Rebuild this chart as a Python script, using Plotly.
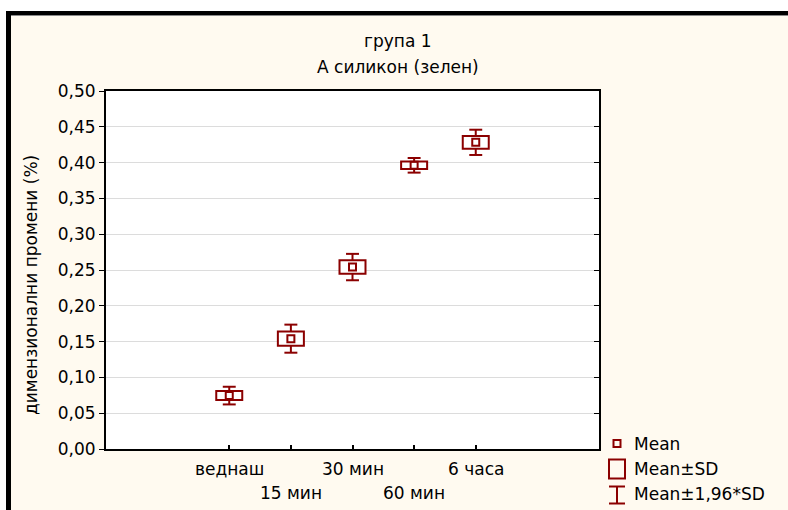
import plotly.graph_objects as go

# Data: dimensional change per time point (mean and standard deviation)
categories = ["веднаш", "15 мин", "30 мин", "60 мин", "6 часа"]
means = [0.0746, 0.1541, 0.2541, 0.3962, 0.4283]
sds = [0.0063, 0.0100, 0.0094, 0.0052, 0.0090]
y_ticks = [0.00, 0.05, 0.10, 0.15, 0.20, 0.25, 0.30, 0.35, 0.40, 0.45, 0.50]
title_lines = ["група 1", "А силикон (зелен)"]
y_title = "димензионални промени (%)"
legend_labels = ["Mean", "Mean±SD", "Mean±1,96*SD"]

RED = "#8b0000"
CREAM = "#fffaf0"
FONT = "DejaVu Sans"
FS = 17
W, H = 788, 510
ML, MR, MT, MB = 106, 189, 91, 61
PW, PH = W - ML - MR, H - MT - MB


def px(x):
    return (x - ML) / PW


def py(y):
    return (H - MB - y) / PH


xs = list(range(len(categories)))
box_half = 0.211
cap_half = 0.105

fig = go.Figure()

shapes = []
for x, m, s in zip(xs, means, sds):
    w = 1.96 * s
    line = dict(color=RED, width=2)
    # whiskers (mean ± 1.96*SD)
    shapes.append(dict(type="line", xref="x", yref="y", x0=x, x1=x, y0=m + s, y1=m + w,
                       line=line, layer="between"))
    shapes.append(dict(type="line", xref="x", yref="y", x0=x, x1=x, y0=m - s, y1=m - w,
                       line=line, layer="between"))
    shapes.append(dict(type="line", xref="x", yref="y", x0=x - cap_half, x1=x + cap_half,
                       y0=m + w, y1=m + w, line=line, layer="between"))
    shapes.append(dict(type="line", xref="x", yref="y", x0=x - cap_half, x1=x + cap_half,
                       y0=m - w, y1=m - w, line=line, layer="between"))
    # box (mean ± SD)
    shapes.append(dict(type="rect", xref="x", yref="y", x0=x - box_half, x1=x + box_half,
                       y0=m - s, y1=m + s, fillcolor="white", line=line, layer="between"))

# mean markers
fig.add_trace(go.Scatter(
    x=xs, y=means, mode="markers", showlegend=False, hoverinfo="skip",
    marker=dict(symbol="square-open", size=7, color=RED, line=dict(width=2, color=RED)),
))

# window frame: white outer strip, thick black edge, cream panel
shapes += [
    dict(type="rect", xref="paper", yref="paper", x0=px(0), x1=px(6), y0=py(H), y1=py(0),
         fillcolor="white", line_width=0, layer="below"),
    dict(type="rect", xref="paper", yref="paper", x0=px(0), x1=px(W), y0=py(11), y1=py(0),
         fillcolor="white", line_width=0, layer="below"),
    dict(type="rect", xref="paper", yref="paper", x0=px(6), x1=px(11), y0=py(H), y1=py(11),
         fillcolor="black", line_width=0, layer="below"),
    dict(type="rect", xref="paper", yref="paper", x0=px(6), x1=px(W), y0=py(15), y1=py(11),
         fillcolor="black", line_width=0, layer="below"),
    dict(type="line", xref="paper", yref="paper", x0=px(11), x1=px(W), y0=py(15.5), y1=py(15.5),
         line=dict(color="#8a8a8a", width=1), layer="below"),
]

# legend keys
lx = 617
shapes += [
    dict(type="rect", xref="paper", yref="paper", x0=px(lx - 3.5), x1=px(lx + 3.5),
         y0=py(447), y1=py(440), line=dict(color=RED, width=2)),
    dict(type="rect", xref="paper", yref="paper", x0=px(lx - 8), x1=px(lx + 8),
         y0=py(478.5), y1=py(459.5), line=dict(color=RED, width=2)),
    dict(type="line", xref="paper", yref="paper", x0=px(lx), x1=px(lx),
         y0=py(503.5), y1=py(486.5), line=dict(color=RED, width=2)),
    dict(type="line", xref="paper", yref="paper", x0=px(lx - 8), x1=px(lx + 8),
         y0=py(486.5), y1=py(486.5), line=dict(color=RED, width=2)),
    dict(type="line", xref="paper", yref="paper", x0=px(lx - 8), x1=px(lx + 8),
         y0=py(503.5), y1=py(503.5), line=dict(color=RED, width=2)),
]

annotations = []
for label, yc in zip(legend_labels, [444, 469, 494]):
    annotations.append(dict(text=label, xref="paper", yref="paper", x=px(632), y=py(yc),
                            xanchor="left", yanchor="middle", showarrow=False,
                            font=dict(family=FONT, size=FS, color="black")))

# staggered category labels
for x, label in zip(xs, categories):
    row = x % 2
    annotations.append(dict(text=label, xref="x", yref="paper", x=x, y=py(469 + 23.7 * row),
                            xanchor="center", yanchor="middle", showarrow=False,
                            font=dict(family=FONT, size=FS, color="black")))

# titles
for line_text, yc in zip(title_lines, [41, 67]):
    annotations.append(dict(text=line_text, xref="paper", yref="paper", x=px(398), y=py(yc),
                            xanchor="center", yanchor="middle", showarrow=False,
                            font=dict(family=FONT, size=FS, color="black")))

annotations.append(dict(text=y_title, xref="paper", yref="paper", x=px(31), y=py(285),
                        xanchor="center", yanchor="middle", textangle=-90, showarrow=False,
                        font=dict(family=FONT, size=FS, color="black")))

fig.update_layout(
    width=W, height=H,
    margin=dict(l=ML, r=MR, t=MT, b=MB, pad=0),
    paper_bgcolor=CREAM, plot_bgcolor="white",
    separators=", ",
    showlegend=False,
    shapes=shapes,
    annotations=annotations,
    font=dict(family=FONT, size=FS, color="black"),
    xaxis=dict(range=[-2, 6], tickvals=xs, showticklabels=False, ticks="inside", ticklen=4,
               tickwidth=2, tickcolor="black", showgrid=False, zeroline=False,
               showline=True, linecolor="black", linewidth=2, mirror=True, fixedrange=True),
    yaxis=dict(range=[0, 0.5], tickvals=y_ticks, tickformat=".2f", ticks="outside", ticklen=5,
               tickwidth=1, tickcolor="black", showgrid=True, gridcolor="#dcdcdc", gridwidth=1,
               zeroline=False, showline=True, linecolor="black", linewidth=2, mirror=True,
               tickfont=dict(family=FONT, size=FS, color="black"), fixedrange=True),
    yaxis2=dict(range=[0, 0.5], tickvals=y_ticks, overlaying="y", side="right", ticks="inside",
                ticklen=5, tickwidth=1, tickcolor="black", showticklabels=False,
                showgrid=False, zeroline=False, fixedrange=True),
)

# invisible trace to activate the right-hand tick axis
fig.add_trace(go.Scatter(x=[None], y=[None], yaxis="y2", showlegend=False, hoverinfo="skip"))

fig.write_html("out.html")
